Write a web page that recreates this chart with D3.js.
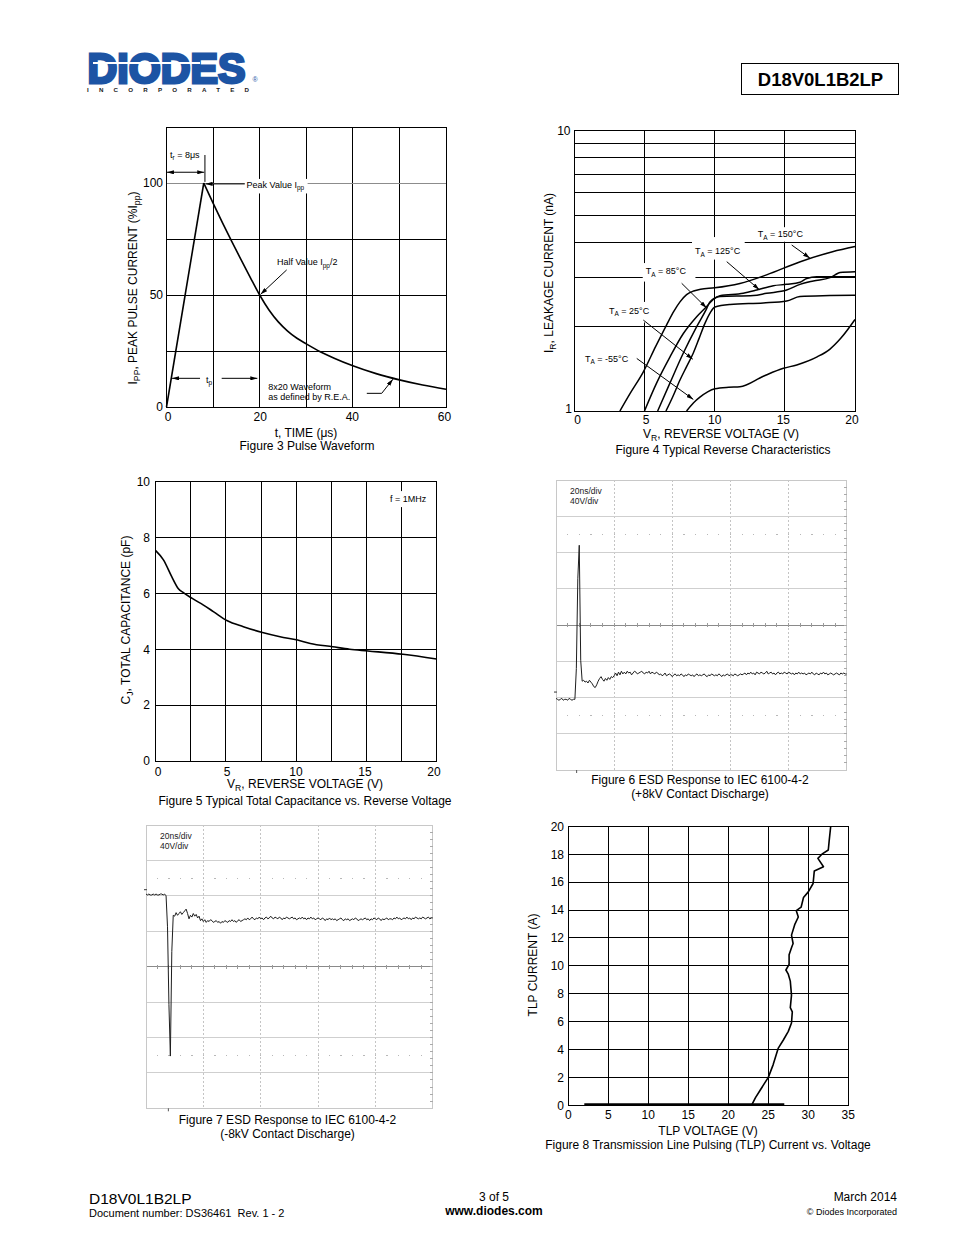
<!DOCTYPE html>
<html><head><meta charset="utf-8">
<script src="https://cdn.jsdelivr.net/npm/d3@7"></script>
<style>
html,body{margin:0;padding:0;background:#fff;}
svg{display:block;font-family:"Liberation Sans",Arial,Helvetica,sans-serif;}
</style></head><body>
<svg id="page" width="954" height="1235"></svg>
<script>
// ================= DATA =================
// Figure 3 – 8x20 pulse waveform
const fig3Time = [0, 8, 10, 12, 14, 16, 18, 20, 22, 24, 26, 28, 30, 33, 36, 40, 45, 50, 55, 60];
const fig3Ipp  = [0, 100, 91, 82.3, 73.9, 65.8, 57.8, 50, 43.3, 38, 33.9, 30.7, 28.2, 24.7, 21.8, 18.4, 14.9, 12.1, 9.8, 7.9];
const fig3XTicks = [0, 20, 40, 60];
const fig3YTicks = [0, 50, 100];
const fig3GridX = [10, 20, 30, 40, 50];
const fig3GridY = [25, 50, 75];

// Figure 4 – reverse leakage (nA) vs VR (V)
const fig4V150 = [3.25, 4.0, 4.92, 5.8, 6.58, 7.1, 7.53, 8.0, 8.5, 9.0, 10.0, 11.8, 13.7, 16.1, 18.4, 20];
const fig4I150 = [1.0, 1.16, 1.38, 1.7, 2.03, 2.27, 2.45, 2.6, 2.68, 2.72, 2.75, 2.85, 3.06, 3.41, 3.70, 3.86];
const fig4V125 = [5.0, 5.87, 6.82, 7.77, 8.72, 9.43, 9.9, 10.38, 12.04, 13.0, 14.18, 15.13, 16.08, 16.56, 17.27, 20];
const fig4I125 = [1.0, 1.26, 1.56, 1.89, 2.17, 2.36, 2.5, 2.58, 2.63, 2.70, 2.80, 2.83, 2.88, 2.97, 3.01, 3.01];
const fig4V85  = [5.94, 6.82, 7.77, 8.72, 9.43, 9.66, 10.38, 12.76, 13.71, 15.13, 16.08, 17.03, 18.22, 18.58, 18.93, 20];
const fig4I85  = [1.0, 1.26, 1.61, 2.0, 2.32, 2.45, 2.56, 2.58, 2.63, 2.70, 2.83, 2.91, 2.99, 3.06, 3.12, 3.14];
const fig4V25  = [6.53, 7.0, 7.53, 8.0, 8.48, 8.9, 9.3, 9.7, 10.02, 11.1, 13.47, 15.13, 16.08, 18.2, 20];
const fig4I25  = [1.0, 1.12, 1.29, 1.44, 1.61, 1.82, 2.05, 2.25, 2.35, 2.4, 2.43, 2.47, 2.56, 2.58, 2.59];
const fig4Vm55 = [8.0, 8.5, 8.95, 9.5, 10.02, 11.0, 11.8, 13.47, 14.9, 15.85, 17.3, 18.2, 19.0, 20];
const fig4Im55 = [1.0, 1.07, 1.12, 1.17, 1.2, 1.215, 1.22, 1.33, 1.42, 1.46, 1.56, 1.66, 1.82, 2.12];
const fig4XTicks = [0, 5, 10, 15, 20];
const fig4GridX = [5, 10, 15];
const fig4GridY = [2, 3, 4, 5, 6, 7, 8, 9];

// Figure 5 – capacitance (pF) vs VR (V)
const fig5V  = [0, 0.55, 1.14, 1.6, 1.97, 2.6, 3.4, 4.1, 5.1, 6.24, 7.6, 8.85, 10.1, 11, 12.6, 13.8, 15.1, 17.6, 20];
const fig5Cj = [7.53, 7.2, 6.6, 6.18, 6.03, 5.82, 5.58, 5.35, 5.02, 4.81, 4.6, 4.45, 4.33, 4.21, 4.09, 4.0, 3.94, 3.82, 3.65];
const fig5XTicks = [0, 5, 10, 15, 20];
const fig5YTicks = [0, 2, 4, 6, 8, 10];
const fig5GridX = [2.5, 5, 7.5, 10, 12.5, 15, 17.5];
const fig5GridY = [2, 4, 6, 8];

// Figure 6 / 7 – ESD scope traces, sample interval 0.5 ns, volts
const scopeSampleNs = 0.5;
const esdPosV = [
  -7,-8,-9,-8,-7,-9,-8,-8,-9,-7,-8,-9,-8,-8,
  26,125,162,35,12,
  13,11,12,10,13,11,
  9,6,5,8,12,15,17,14,12,15,13,16,14,17,16,18,21,18,22,19,23,20,
  22,20,23,21,22,19,21,23,22,20,21,22,23,21,20,22,21,23,20,22,21,20,22,21,
  19,20,18,19,21,18,19,20,19,17, 19,20,18,19,18,20,19,17,19,18,
  20,19,18,19,17,19,20,18,19,18, 19,20,18,17,19,18,20,19,18,19,
  18,20,19,17,19,18,19,20,18,19, 19,18,20,19,18,19,20,19,
  20,21,19,21,20,22,20,21,19,22, 21,20,22,21,20,21,23,20,21,22,
  20,21,19,21,22,20,21,20,22,21, 20,22,21,20,21,19,21,20,22,20,
  21,20,21,19,20,21,20,22,20,19, 21,20,19,21,20,22,20,21,19,20,
  21,20,19,20,21,20,19,21,20,21, 20,20
];
const esdNegV = [
  -5,-6,-5,-6,-6,-5,-6,-5,-6,-6,-5,-5,-6,-5,
  -7,-42,-130,-188,-70,-29,
  -30,-26,-29,-27,-25,-28,-26,-24,-22,-27,-33,-29,-31,-27,-30,-28,-32,-30,
  -35,-33,-36,-34,-37,-35,-36,-34,-35,-37, -36,-35,-37,-36,-38,-36,-37,-35,-36,-37,
  -35,-36,-34,-36,-35,-37,-35,-34,-36,-35,-34,
  -33,-34,-32,-34,-33,-31,-33,-34,-32,-33, -31,-33,-32,-34,-32,-31,-33,-32,-30,-32,
  -33,-31,-32,-33,-31,-32,-34,-32,-33,-31, -32,-33,-32,-31,-33,-32,-34,-33,-32,-33,
  -31,-33,-32,-34,-32,-33,-31,-33,-32,-34, -33,-32,
  -33,-34,-32,-33,-35,-33,-34,-32,-34,-33, -34,-33,-35,-34,-33,-32,-34,-35,-33,-34,
  -33,-35,-34,-33,-34,-32,-33,-35,-34,-33, -34,-33,-32,-34,-33,-35,-33,-34,-32,-33,
  -34,-32,-33,-35,-33,-34,-33,-32,-34,-33, -33,-34,-32,-33,-31,-33,-32,-34,-33,-32,
  -33,-31,-33,-32,-34,-32,-33,-31,-32,-33, -32,-33,-31,-32,-33,-32,-31,-33,-32,-32
];
const scopeNsPerDiv = 20;
const scopeVPerDiv = 40;

// Figure 8 – TLP
const fig8V = [22.9, 23.4, 24.0, 24.5, 25.0, 25.6, 26.25, 26.9, 27.5, 27.9, 28.0, 27.75, 27.9, 27.75, 27.5, 27.2, 27.6, 27.6, 27.9, 28.1, 27.9, 28.3, 28.75, 28.5, 29.1, 29.4, 30.0, 30.6, 30.75, 31.9, 31.2, 31.7, 32.5, 32.6, 32.8];
const fig8A = [0, 0.55, 1.1, 1.55, 2.0, 2.9, 4.1, 4.7, 5.3, 5.9, 6.7, 7.0, 7.9, 8.9, 9.4, 9.7, 10.1, 10.8, 11.3, 11.6, 12.2, 12.95, 13.5, 13.95, 14.2, 14.9, 15.3, 15.9, 16.8, 17.1, 17.7, 18.0, 18.3, 18.9, 20];
const fig8LeakV = [2, 27];
const fig8LeakA = [0, 0];
const fig8XTicks = [0, 5, 10, 15, 20, 25, 30, 35];
const fig8YTicks = [0, 2, 4, 6, 8, 10, 12, 14, 16, 18, 20];

// ================= DRAWING =================
const svg = d3.select('#page');
const defs = svg.append('defs');
defs.append('marker').attr('id', 'arr').attr('viewBox', '0 0 10 6')
  .attr('refX', 10).attr('refY', 3).attr('markerWidth', 7).attr('markerHeight', 4.2)
  .attr('markerUnits', 'userSpaceOnUse').attr('orient', 'auto-start-reverse')
  .append('path').attr('d', 'M0,0L10,3L0,6Z').attr('fill', '#000');

function rich(sel, str, fs) {
  const parts = str.split(/(_\{[^}]*\})/).filter(p => p.length);
  let low = false;
  parts.forEach(p => {
    if (p.startsWith('_{')) {
      sel.append('tspan').attr('font-size', fs * 0.72).attr('dy', low ? 0 : fs * 0.28).text(p.slice(2, -1));
      low = true;
    } else {
      sel.append('tspan').attr('dy', low ? -fs * 0.28 : 0).text(p);
      low = false;
    }
  });
  return sel;
}
function label(g, x, y, str, fs, anchor = 'middle', opts = {}) {
  const t = g.append('text').attr('x', x).attr('y', y).attr('font-size', fs)
    .attr('text-anchor', anchor).attr('fill', opts.fill || '#000');
  if (opts.weight) t.attr('font-weight', opts.weight);
  if (opts.pre) t.style('white-space', 'pre');
  if (opts.rotate) t.attr('transform', `rotate(-90,${x},${y})`);
  rich(t, str, fs);
  return t;
}
function bg(g, t, pads = [2, 3, 2, 3]) {
  const b = t.node().getBBox();
  g.insert('rect', () => t.node())
    .attr('x', b.x - pads[3]).attr('y', b.y - pads[0])
    .attr('width', b.width + pads[1] + pads[3]).attr('height', b.height + pads[0] + pads[2])
    .attr('fill', '#fff');
}
function seg(g, x1, y1, x2, y2, stroke = '#000', w = 1, dash = null) {
  const l = g.append('line').attr('x1', x1).attr('y1', y1).attr('x2', x2).attr('y2', y2)
    .attr('stroke', stroke).attr('stroke-width', w);
  if (dash) l.attr('stroke-dasharray', dash);
  return l;
}
function arrowPath(g, pts, x, y, both = false) {
  const p = g.append('path').attr('d', d3.line().x(d => x(d[0])).y(d => y(d[1]))(pts))
    .attr('fill', 'none').attr('stroke', '#000').attr('stroke-width', 1)
    .attr('marker-end', 'url(#arr)');
  if (both) p.attr('marker-start', 'url(#arr)');
  return p;
}
function plotBox(g, x, y) {
  const [a, b] = x.range(), [c, d] = y.range();
  g.append('rect').attr('x', Math.min(a, b)).attr('y', Math.min(c, d))
    .attr('width', Math.abs(b - a)).attr('height', Math.abs(d - c))
    .attr('fill', 'none').attr('stroke', '#000').attr('stroke-width', 1);
}
function zip(a, b) { return a.map((v, i) => [v, b[i]]); }

// ---------- Header ----------
const hdr = svg.append('g');
const logoText = hdr.append('text').attr('fill', '#1c54a4');
logoText.append('tspan').attr('x', 87.5).attr('y', 82.5).attr('font-size', 43).attr('font-weight', 'bold')
  .attr('stroke', '#1c54a4').attr('stroke-width', 3).attr('stroke-linejoin', 'miter')
  .attr('textLength', 158).attr('lengthAdjust', 'spacingAndGlyphs').text('DIODES');
logoText.append('tspan').attr('x', 252.5).attr('y', 82).attr('font-size', 7).text('®');
logoText.append('tspan').attr('x', 87).attr('y', 92).attr('font-size', 6.2).attr('font-weight', 'bold')
  .attr('fill', '#1a1a1a').attr('textLength', 162).attr('lengthAdjust', 'spacing').text('INCORPORATED');
seg(hdr, 93, 63, 200, 63, '#fff', 2.2);
hdr.append('rect').attr('x', 741.5).attr('y', 63.5).attr('width', 157).attr('height', 31)
  .attr('fill', 'none').attr('stroke', '#000').attr('stroke-width', 1);
label(hdr, 820.5, 85.5, 'D18V0L1B2LP', 18.5, 'middle', { weight: 'bold' });

// ---------- Figure 3 ----------
{
  const g = svg.append('g');
  const x = d3.scaleLinear().domain([0, 60]).range([166.5, 446]);
  const y = d3.scaleLinear().domain([0, 125]).range([407, 127]);
  const grid = g.append('g').attr('shape-rendering', 'crispEdges');
  fig3GridX.forEach(v => seg(grid, x(v), y(0), x(v), y(125)));
  fig3GridY.forEach(v => seg(grid, x(0), y(v), x(60), y(v)));
  seg(grid, x(0), y(100), x(60), y(100), '#8c8c8c');
  plotBox(grid, x, y);
  fig3XTicks.forEach(v => label(g, x(v) + 1.5 - v * 0.05, 420.5, String(v), 12));
  fig3YTicks.forEach(v => label(g, 163, y(v) + 4.3, String(v), 12, 'end'));
  const pts = zip(fig3Time, fig3Ipp);
  g.append('path').attr('d', d3.line().x(d => x(d[0])).y(d => y(d[1]))(pts.slice(0, 2)))
    .attr('fill', 'none').attr('stroke', '#000').attr('stroke-width', 1.6);
  g.append('path').attr('d', d3.line().curve(d3.curveMonotoneX).x(d => x(d[0])).y(d => y(d[1]))(pts.slice(1)))
    .attr('fill', 'none').attr('stroke', '#000').attr('stroke-width', 1.6);
  label(g, x(0.75), y(111.2), 't_{r} = 8μs', 9, 'start');
  arrowPath(g, [[0.1, 104.8], [8.1, 104.8]], x, y, true);
  seg(g, x(8.25), y(112.5), x(8.25), y(100.5));
  const pk = label(g, x(17.2), y(97.8), 'Peak Value I_{pp}', 9, 'start');
  bg(g, pk, [1, 3, 1, 2]);
  arrowPath(g, [[16.8, 99.6], [8.4, 99.6]], x, y);
  label(g, x(23.7), y(63.4), 'Half Value I_{pp}/2', 9, 'start');
  arrowPath(g, [[25.8, 61.2], [20.2, 50.3]], x, y);
  arrowPath(g, [[7.2, 12.8], [1.2, 12.8]], x, y);
  arrowPath(g, [[11.85, 12.8], [19.5, 12.8]], x, y);
  label(g, x(8.5), y(10.9), 't_{p}', 9, 'start');
  label(g, x(21.85), y(7.6), '8x20 Waveform', 9, 'start');
  label(g, x(21.85), y(3.1), 'as defined by R.E.A.', 9, 'start');
  arrowPath(g, [[43, 6.1], [46.2, 6.1], [48.6, 12.4]], x, y);
  label(g, 136.5, 288, 'I_{PP}, PEAK PULSE CURRENT (%I_{pp})', 12, 'middle', { rotate: true });
  label(g, 306, 437, 't, TIME (μs)', 12);
  label(g, 307, 450, 'Figure 3 Pulse Waveform', 12);
}

// ---------- Figure 4 ----------
{
  const g = svg.append('g');
  const x = d3.scaleLinear().domain([0, 20]).range([574.3, 855]);
  const y = d3.scaleLog().domain([1, 10]).range([411, 130.7]);
  const grid = g.append('g').attr('shape-rendering', 'crispEdges');
  fig4GridX.forEach(v => seg(grid, x(v), y(1), x(v), y(10)));
  fig4GridY.forEach(v => seg(grid, x(0), y(v), x(20), y(v)));
  plotBox(grid, x, y);
  fig4XTicks.forEach(v => label(g, x(v) + 3.2 - v * 0.31, 424, String(v), 12));
  label(g, 570.5, y(10) + 4.5, '10', 12, 'end');
  label(g, 572, y(1) + 2, '1', 12, 'end');
  const curves = [[fig4V150, fig4I150], [fig4V125, fig4I125], [fig4V85, fig4I85], [fig4V25, fig4I25], [fig4Vm55, fig4Im55]];
  curves.forEach(([vv, ii]) => {
    g.append('path').attr('d', d3.line().curve(d3.curveMonotoneX).x(d => x(d[0])).y(d => y(d[1]))(zip(vv, ii)))
      .attr('fill', 'none').attr('stroke', '#000').attr('stroke-width', 1.5);
  });
  const L = [
    ['T_{A} = 150°C', 13.07, 4.17, [2, 3, 1, 3]],
    ['T_{A} = 125°C', 8.6, 3.63, [9, 4, 2, 3]],
    ['T_{A} = 85°C', 5.09, 3.08, [3, 9, 4, 3]],
    ['T_{A} = 25°C', 2.47, 2.22, [4, 3, 5, 3]],
    ['T_{A} = -55°C', 0.76, 1.50, [2, 3, 2, 3]]
  ];
  L.forEach(([s, vx, iy, pads]) => { const t = label(g, x(vx), y(iy), s, 9, 'start'); bg(g, t, pads); });
  arrowPath(g, [[15.49, 3.91], [16.79, 3.51]], x, y);
  arrowPath(g, [[10.86, 3.41], [13.18, 2.71]], x, y);
  arrowPath(g, [[7.65, 2.855], [9.43, 2.33]], x, y);
  arrowPath(g, [[4.92, 2.11], [8.44, 1.53]], x, y);
  arrowPath(g, [[4.45, 1.54], [8.48, 1.10]], x, y);
  label(g, 553, 273, 'I_{R}, LEAKAGE CURRENT (nA)', 12, 'middle', { rotate: true });
  label(g, 721, 438, 'V_{R}, REVERSE VOLTAGE (V)', 12);
  label(g, 723, 454, 'Figure 4 Typical Reverse Characteristics', 12);
}

// ---------- Figure 5 ----------
{
  const g = svg.append('g');
  const x = d3.scaleLinear().domain([0, 20]).range([155.7, 436.7]);
  const y = d3.scaleLinear().domain([0, 10]).range([761, 481.7]);
  const grid = g.append('g').attr('shape-rendering', 'crispEdges');
  fig5GridX.forEach(v => seg(grid, x(v), y(0), x(v), y(10)));
  fig5GridY.forEach(v => seg(grid, x(0), y(v), x(20), y(v)));
  plotBox(grid, x, y);
  fig5XTicks.forEach(v => label(g, x(v) + 2.3 - v * 0.25, 776, String(v), 12));
  fig5YTicks.forEach(v => label(g, 150, y(v) + 4.3, String(v), 12, 'end'));
  g.append('path').attr('d', d3.line().curve(d3.curveMonotoneX).x(d => x(d[0])).y(d => y(d[1]))(zip(fig5V, fig5Cj)))
    .attr('fill', 'none').attr('stroke', '#000').attr('stroke-width', 1.6);
  const f = label(g, x(16.68), y(9.27), 'f = 1MHz', 9, 'start');
  bg(g, f, [3, 3, 3, 3]);
  label(g, 130, 620, 'C_{J}, TOTAL CAPACITANCE (pF)', 12, 'middle', { rotate: true });
  label(g, 305, 788, 'V_{R}, REVERSE VOLTAGE (V)', 12);
  label(g, 305, 805, 'Figure 5 Typical Total Capacitance vs. Reverse Voltage', 12);
}

// ---------- Scope helper (Figures 6, 7) ----------
function drawScope(box, vBottom, values, triggerNs, caption1, caption2, capX, capY) {
  const g = svg.append('g');
  const x = d3.scaleLinear().domain([0, 5 * scopeNsPerDiv]).range([box.left, box.right]);
  const y = d3.scaleLinear().domain([vBottom, vBottom + 8 * scopeVPerDiv]).range([box.bottom, box.top]);
  const grid = g.append('g').attr('shape-rendering', 'crispEdges');
  const vLevels = d3.range(1, 8).map(k => vBottom + k * scopeVPerDiv);
  const tLevels = d3.range(1, 5).map(k => k * scopeNsPerDiv);
  tLevels.forEach(t => seg(grid, x(t), box.top, x(t), box.bottom, '#c4c4c4', 1, '2,2'));
  vLevels.forEach((v, i) => seg(grid, x(0), y(v), x(100), y(v), i === 3 ? '#8a8a8a' : '#cfcfcf', 1));
  grid.append('rect').attr('x', box.left).attr('y', box.top).attr('width', box.right - box.left)
    .attr('height', box.bottom - box.top).attr('fill', 'none').attr('stroke', '#c8c8c8');
  const minorT = d3.range(1, 25).map(k => k * scopeNsPerDiv / 5);
  const center = vLevels[3];
  minorT.forEach(t => seg(grid, x(t), y(center) - 2, x(t), y(center) + 2, '#9a9a9a'));
  [vBottom + 6.5 * scopeVPerDiv, vBottom + 1.5 * scopeVPerDiv].forEach(v =>
    minorT.forEach(t => grid.append('rect').attr('x', x(t) - 0.5).attr('y', y(v) - 0.5)
      .attr('width', 1.2).attr('height', 1.2).attr('fill', '#b8b8b8')));
  const minorV = d3.range(1, 40).map(k => vBottom + k * scopeVPerDiv / 5);
  minorV.forEach(v => seg(grid, box.right - 3, y(v), box.right, y(v), '#aaaaaa'));
  seg(g, box.left - 2, y(0), box.left + 1, y(0), '#555', 1.2);
  seg(g, x(triggerNs), box.bottom, x(triggerNs), box.bottom + 3, '#555', 1);
  g.append('path').attr('d', d3.line().x((d, i) => x(i * scopeSampleNs)).y(d => y(d))(values))
    .attr('fill', 'none').attr('stroke', '#1e1e1e').attr('stroke-width', 1);
  label(g, box.left + 14, box.top + 14, '20ns/div', 8.5, 'start', { fill: '#222' });
  label(g, box.left + 14, box.top + 24, '40V/div', 8.5, 'start', { fill: '#222' });
  label(g, capX, capY, caption1, 12);
  label(g, capX, capY + 14, caption2, 12);
}
drawScope({ left: 556, right: 846.7, top: 480, bottom: 770 }, -86, esdPosV, 7.1,
  'Figure 6 ESD Response to IEC 6100-4-2', '(+8kV Contact Discharge)', 700, 783.5);
drawScope({ left: 146, right: 432.7, top: 825, bottom: 1108.3 }, -247, esdNegV, 7.8,
  'Figure 7 ESD Response to IEC 6100-4-2', '(-8kV Contact Discharge)', 287.5, 1123.5);

// ---------- Figure 8 ----------
{
  const g = svg.append('g');
  const x = d3.scaleLinear().domain([0, 35]).range([568.3, 848.3]);
  const y = d3.scaleLinear().domain([0, 20]).range([1105.3, 826.3]);
  const grid = g.append('g').attr('shape-rendering', 'crispEdges');
  fig8XTicks.slice(1, -1).forEach(v => seg(grid, x(v), y(0), x(v), y(20)));
  fig8YTicks.slice(1, -1).forEach(v => seg(grid, x(0), y(v), x(35), y(v)));
  plotBox(grid, x, y);
  fig8XTicks.forEach(v => label(g, x(v), 1119, String(v), 12));
  fig8YTicks.forEach(v => label(g, 564, y(v) + 4.3, String(v), 12, 'end'));
  g.append('path').attr('d', d3.line().x(d => x(d[0])).y(d => y(d[1]) - 1)(zip(fig8LeakV, fig8LeakA)))
    .attr('fill', 'none').attr('stroke', '#000').attr('stroke-width', 2.2);
  g.append('path').attr('d', d3.line().x(d => x(d[0])).y(d => y(d[1]))(zip(fig8V, fig8A)))
    .attr('fill', 'none').attr('stroke', '#000').attr('stroke-width', 1.6).attr('stroke-linejoin', 'round');
  label(g, 537, 965, 'TLP CURRENT (A)', 12, 'middle', { rotate: true });
  label(g, 708, 1135, 'TLP VOLTAGE (V)', 12);
  label(g, 708, 1149, 'Figure 8 Transmission Line Pulsing (TLP) Current vs. Voltage', 12);
}

// ---------- Footer ----------
{
  const g = svg.append('g');
  label(g, 89, 1203.5, 'D18V0L1B2LP', 15.5, 'start');
  label(g, 89, 1216.5, 'Document number: DS36461  Rev. 1 - 2', 11, 'start', { pre: true });
  label(g, 494, 1200.5, '3 of 5', 12);
  label(g, 494, 1215, 'www.diodes.com', 12, 'middle', { weight: 'bold' });
  label(g, 897, 1201, 'March 2014', 12, 'end');
  label(g, 897, 1214.5, '© Diodes Incorporated', 9, 'end');
}
</script>
</body></html>
